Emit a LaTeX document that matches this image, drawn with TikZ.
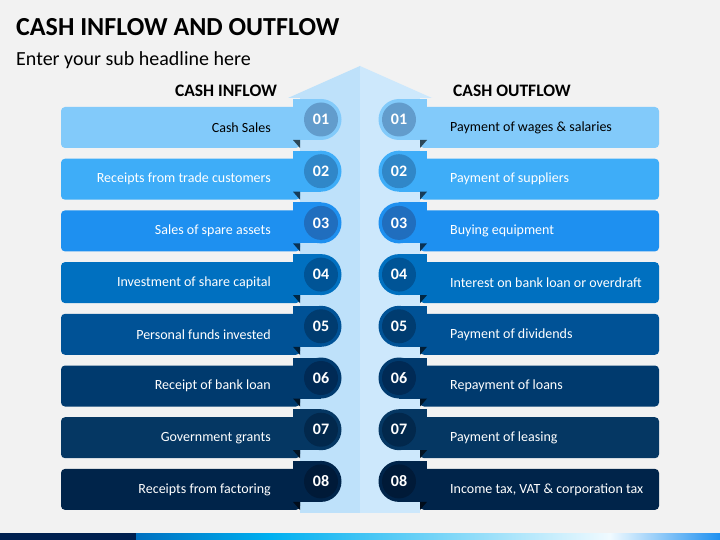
\documentclass[tikz,border=0pt]{standalone}
\usepackage{fontspec}
\setmainfont{Carlito}
\definecolor{bg}{HTML}{F2F2F2}
\definecolor{shaftL}{HTML}{BEE1FA}
\definecolor{shaftR}{HTML}{CDE8FC}
\definecolor{rA}{HTML}{82CAFA}\definecolor{cA}{HTML}{629CCC}
\definecolor{rB}{HTML}{3EADF8}\definecolor{cB}{HTML}{3087C8}
\definecolor{rC}{HTML}{1E90F0}\definecolor{cC}{HTML}{206EBE}
\definecolor{rD}{HTML}{0070C0}\definecolor{cD}{HTML}{005496}
\definecolor{rE}{HTML}{005296}\definecolor{cE}{HTML}{003C70}
\definecolor{rF}{HTML}{003A6E}\definecolor{cF}{HTML}{002A55}
\definecolor{rG}{HTML}{053763}\definecolor{cG}{HTML}{02284C}
\definecolor{rH}{HTML}{00244A}\definecolor{cH}{HTML}{001A38}
\definecolor{navy}{HTML}{002050}
\definecolor{barmid}{HTML}{00B0F0}
\definecolor{barlight}{HTML}{F0FAFF}
\tikzset{
  rowtext/.style={font=\fontsize{14}{16}\selectfont, inner sep=0pt},
  numtext/.style={font=\bfseries\fontsize{16}{18}\selectfont, text=white, inner sep=0pt},
  headtext/.style={font=\bfseries\fontsize{17.5}{20}\selectfont, inner sep=0pt},
}
\begin{document}
\begin{tikzpicture}[x=1pt,y=-1pt]
\fill[bg] (0,0) rectangle (720,540);
\useasboundingbox (0,0) rectangle (720,540);
% title
\node[anchor=west, inner sep=0pt, font=\bfseries\fontsize{26}{30}\selectfont] (title) at (16,27) {CASH INFLOW AND OUTFLOW};
\node[anchor=west, inner sep=0pt, font=\fontsize{20}{24}\selectfont] (sub) at (16,60) {Enter your sub headline here};
\node[headtext] (hin) at (226,91) {CASH INFLOW};
\node[headtext] (hout) at (512,91) {CASH OUTFLOW};
% arrow
\fill[shaftL] (288,98) -- (360,66) -- (360,98) -- cycle;
\fill[shaftR] (432,98) -- (360,66) -- (360,98) -- cycle;
\fill[shaftL] (300,97.5) rectangle (360,513);
\fill[shaftR] (360,97.5) rectangle (420,513);
% rows
\foreach \i/\rc/\cc/\tc/\ltxt/\rtxt in {
 0/rA/cA/black/Cash Sales/Payment of wages \& salaries,
 1/rB/cB/white/Receipts from trade customers/Payment of suppliers,
 2/rC/cC/white/Sales of spare assets/Buying equipment,
 3/rD/cD/white/Investment of share capital/Interest on bank loan or overdraft,
 4/rE/cE/white/Personal funds invested/Payment of dividends,
 5/rF/cF/white/Receipt of bank loan/Repayment of loans,
 6/rG/cG/white/Government grants/Payment of leasing,
 7/rH/cH/white/Receipts from factoring/{Income tax, VAT \& corporation tax}}{
  \pgfmathsetmacro{\yc}{127.5+51.7*\i}
  \pgfmathsetmacro{\yt}{\yc-20.5}
  \pgfmathsetmacro{\yb}{\yc+20.5}
  \pgfmathsetmacro{\tabt}{\yc-28.5}
  \pgfmathsetmacro{\tabb}{\yc+12.5}
  \pgfmathsetmacro{\cy}{\yc-8}
  % left
  \fill[\rc, rounded corners=4pt] (300,\yt) -- (61,\yt) -- (61,\yb) -- (300,\yb) [sharp corners] -- cycle;
  \fill[\rc] (293,\tabt) rectangle (321,\tabb);
  \fill[\rc] (321,\cy) circle[radius=20.5];
  \fill[\rc!35!black] (293,\tabb) -- (300,\tabb) -- (300,\yb) -- cycle;
  \fill[\cc] (321,\cy) circle[radius=17];
  \node[numtext] (ln\i) at (321,\cy) {0\the\numexpr\i+1\relax};
  \node[rowtext, anchor=east, text=\tc] (lt\i) at (271,\yc) {\ltxt};
  % right
  \fill[\rc, rounded corners=4pt] (420,\yt) -- (659,\yt) -- (659,\yb) -- (420,\yb) [sharp corners] -- cycle;
  \fill[\rc] (399,\tabt) rectangle (427,\tabb);
  \fill[\rc] (399,\cy) circle[radius=20.5];
  \fill[\rc!35!black] (427,\tabb) -- (420,\tabb) -- (420,\yb) -- cycle;
  \fill[\cc] (399,\cy) circle[radius=17];
  \node[numtext] (rn\i) at (399,\cy) {0\the\numexpr\i+1\relax};
  \node[rowtext, anchor=west, text=\tc] (rt\i) at (450,\yc) {\rtxt};
}
% bottom bar
\fill[navy] (0,533) rectangle (136,540);
\shade[left color=rD, right color=barmid] (136,533) rectangle (270,540);
\shade[left color=barmid, right color=barlight] (270,533) rectangle (610,540);
\shade[left color=barlight, right color=rC] (610,533) rectangle (720,540);
\end{tikzpicture}
\end{document}
